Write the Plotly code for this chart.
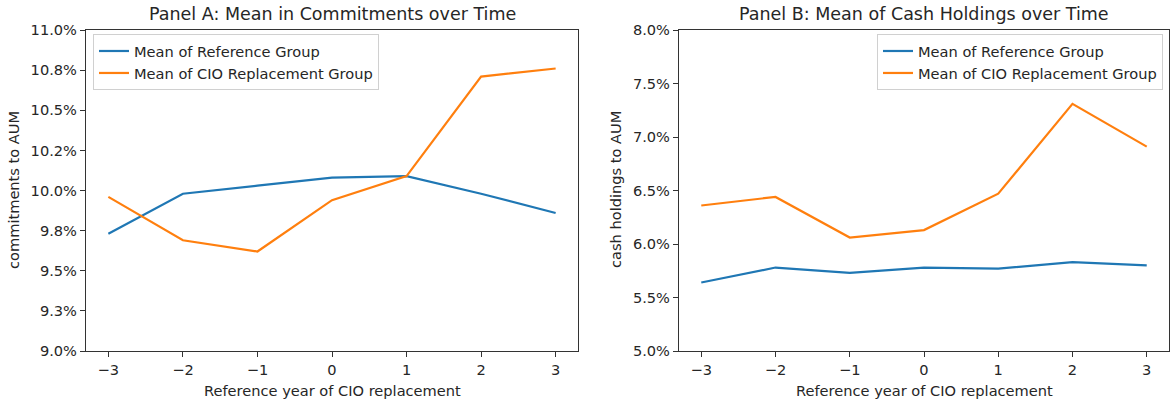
import plotly.graph_objects as go

W, H = 1172, 401

years = [-3, -2, -1, 0, 1, 2, 3]
year_labels = ["\u22123", "\u22122", "\u22121", "0", "1", "2", "3"]

# Panel A: commitments to AUM (%)
commit_ref = [9.73, 9.98, 10.03, 10.08, 10.09, 9.98, 9.86]
commit_cio = [9.96, 9.69, 9.62, 9.94, 10.09, 10.71, 10.76]
commit_ticks = [9.0, 9.25, 9.5, 9.75, 10.0, 10.25, 10.5, 10.75, 11.0]
commit_ticklabels = ["9.0%", "9.3%", "9.5%", "9.8%", "10.0%", "10.2%", "10.5%", "10.8%", "11.0%"]

# Panel B: cash holdings to AUM (%)
cash_ref = [5.64, 5.78, 5.73, 5.78, 5.77, 5.83, 5.80]
cash_cio = [6.36, 6.44, 6.06, 6.13, 6.47, 7.31, 6.91]
cash_ticks = [5.0, 5.5, 6.0, 6.5, 7.0, 7.5, 8.0]
cash_ticklabels = ["5.0%", "5.5%", "6.0%", "6.5%", "7.0%", "7.5%", "8.0%"]

ref_name = "Mean of Reference Group"
cio_name = "Mean of CIO Replacement Group"
BLUE = "#1f77b4"
ORANGE = "#ff7f0e"
FONT = "DejaVu Sans"
TXT = "#262626"
FS = 14.6

def px(x):
    return x / W

def py(y):
    return 1 - y / H

fig = go.Figure()
fig.add_trace(go.Scatter(x=years, y=commit_ref, mode="lines", name=ref_name,
                         line=dict(color=BLUE, width=2.2), xaxis="x", yaxis="y", legend="legend"))
fig.add_trace(go.Scatter(x=years, y=commit_cio, mode="lines", name=cio_name,
                         line=dict(color=ORANGE, width=2.2), xaxis="x", yaxis="y", legend="legend"))
fig.add_trace(go.Scatter(x=years, y=cash_ref, mode="lines", name=ref_name,
                         line=dict(color=BLUE, width=2.2), xaxis="x2", yaxis="y2", legend="legend2"))
fig.add_trace(go.Scatter(x=years, y=cash_cio, mode="lines", name=cio_name,
                         line=dict(color=ORANGE, width=2.2), xaxis="x2", yaxis="y2", legend="legend2"))

axis_common = dict(showline=True, linecolor="#333", linewidth=1.2, mirror=True,
                   ticks="outside", ticklen=5, tickwidth=1.2, tickcolor="#333",
                   showgrid=False, zeroline=False, automargin=False,
                   tickfont=dict(family=FONT, size=FS, color=TXT))

ydom = [py(351), py(30)]
fig.update_layout(
    width=W, height=H,
    margin=dict(l=0, r=0, t=0, b=0, pad=0, autoexpand=False),
    paper_bgcolor="white", plot_bgcolor="white",
    font=dict(family=FONT, size=FS, color=TXT),
    xaxis=dict(domain=[px(86), px(578)], range=[-3.3, 3.3], anchor="y",
               tickvals=years, ticktext=year_labels, **axis_common),
    yaxis=dict(domain=ydom, range=[9.0, 11.0], anchor="x",
               tickvals=commit_ticks, ticktext=commit_ticklabels, **axis_common),
    xaxis2=dict(domain=[px(679), px(1169)], range=[-3.3, 3.3], anchor="y2",
                tickvals=years, ticktext=year_labels, **axis_common),
    yaxis2=dict(domain=ydom, range=[5.0, 8.0], anchor="x2",
                tickvals=cash_ticks, ticktext=cash_ticklabels, **axis_common),
    legend=dict(x=px(93), y=py(34), xanchor="left", yanchor="top",
                bgcolor="rgba(255,255,255,0.8)", bordercolor="#d0d0d0", borderwidth=1,
                font=dict(family=FONT, size=FS, color=TXT), itemwidth=30,
                tracegroupgap=0),
    legend2=dict(x=px(1163), y=py(34), xanchor="right", yanchor="top",
                 bgcolor="rgba(255,255,255,0.8)", bordercolor="#d0d0d0", borderwidth=1,
                 font=dict(family=FONT, size=FS, color=TXT), itemwidth=30,
                 tracegroupgap=0),
    showlegend=True,
)

annots = [
    dict(text="Panel A: Mean in Commitments over Time", x=px(332), y=py(14), size=17.5),
    dict(text="Panel B: Mean of Cash Holdings over Time", x=px(924), y=py(14), size=17.5),
    dict(text="Reference year of CIO replacement", x=px(332), y=py(390), size=FS),
    dict(text="Reference year of CIO replacement", x=px(924), y=py(390), size=FS),
    dict(text="commitments to AUM", x=px(13), y=py(190), size=FS, angle=-90),
    dict(text="cash holdings to AUM", x=px(615), y=py(190), size=FS, angle=-90),
]
for a in annots:
    fig.add_annotation(text=a["text"], x=a["x"], y=a["y"], xref="paper", yref="paper",
                       xanchor="center", yanchor="middle", showarrow=False,
                       textangle=a.get("angle", 0),
                       font=dict(family=FONT, size=a["size"], color=TXT))

fig.write_html(
    "out.html",
    config={"displayModeBar": False},
    post_script="document.body.style.margin='0';document.body.style.overflow='hidden';",
)
